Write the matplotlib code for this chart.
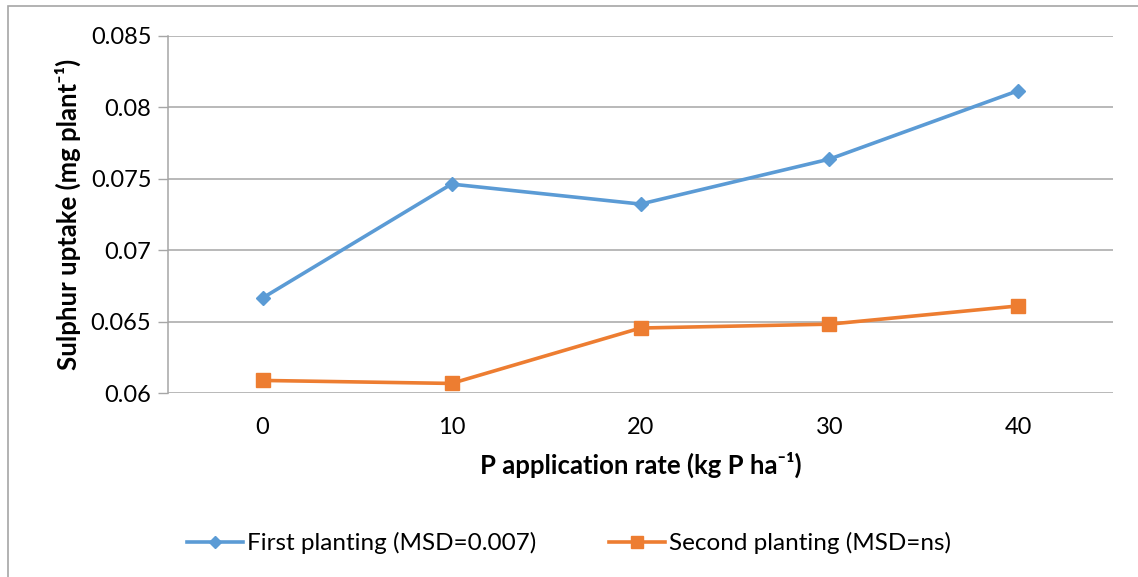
import matplotlib.pyplot as plt
from matplotlib.patches import Rectangle

rates = ["0", "10", "20", "30", "40"]
first_planting = [0.06665, 0.07463, 0.07323, 0.07638, 0.08118]
second_planting = [0.06088, 0.06067, 0.06455, 0.06482, 0.06610]
yticks = [0.06, 0.065, 0.07, 0.075, 0.08, 0.085]
ytick_labels = ["0.06", "0.065", "0.07", "0.075", "0.08", "0.085"]

fonts = ["Lato", "DejaVu Sans"]
plt.rcParams["font.family"] = fonts

fig = plt.figure(figsize=(11.38, 5.77), dpi=100)
ax = fig.add_axes([168 / 1138, 1 - 393 / 577, 945 / 1138, 357 / 577])

# outer chart frame
fig.patches.append(Rectangle((8 / 1138, -0.1), 1.2, 1 - 6 / 577 + 0.1,
                             transform=fig.transFigure, fill=False,
                             edgecolor="#A6A6A6", linewidth=1.2))

x = list(range(len(rates)))
ax.plot(x, first_planting, color="#5B9BD5", linewidth=2.6, marker="D",
        markersize=7.5, label="First planting (MSD=0.007)")
ax.plot(x, second_planting, color="#ED7D31", linewidth=2.6, marker="s",
        markersize=9.5, label="Second planting (MSD=ns)")

ax.set_xlim(-0.5, len(rates) - 0.5)
ax.set_ylim(0.06, 0.085)
ax.set_xticks(x)
ax.set_xticklabels(rates)
ax.set_yticks(yticks)
ax.set_yticklabels(ytick_labels)
ax.tick_params(axis="x", length=0, labelsize=17, pad=17)
ax.tick_params(axis="y", length=7, width=1, color="#A6A6A6", labelsize=17, pad=5)
ax.grid(axis="y", color="#A6A6A6", linewidth=1.1)
ax.set_axisbelow(True)
for side in ["top", "right", "bottom"]:
    ax.spines[side].set_visible(False)
ax.spines["left"].set_color("#A6A6A6")
ax.spines["left"].set_linewidth(1.1)

ax.set_ylabel("Sulphur uptake (mg plant\u207b\u00b9)", fontsize=18.5,
              fontweight="bold", labelpad=7)
ax.set_xlabel("P application rate (kg P ha\u207b\u00b9)", fontsize=18.5,
              fontweight="bold", labelpad=10)

fig.legend(loc="center", bbox_to_anchor=(0.5, 1 - 543 / 577), ncol=2,
           frameon=False, fontsize=17.5, handlelength=2.3, handletextpad=0.15,
           columnspacing=3.0, markerscale=0.85)

fig.savefig("out.png", dpi=100)
